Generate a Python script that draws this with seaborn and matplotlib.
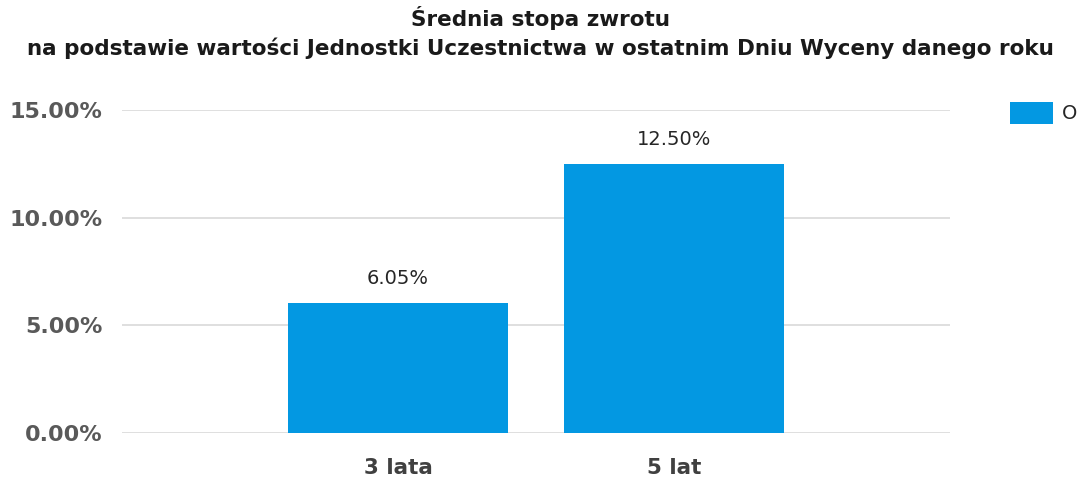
"""
bar chart: average rate of return (3 and 5 years)
"""

import matplotlib
matplotlib.use("Agg")
import matplotlib.pyplot as plt
import seaborn as sns
import pandas as pd

categories = ["3 lata", "5 lat"]
values = [6.05, 12.50]
series_name = "O"
y_ticks = [0, 5, 10, 15]

title_line1 = "Średnia stopa zwrotu"
title_line2 = "na podstawie wartości Jednostki Uczestnictwa w ostatnim Dniu Wyceny danego roku"

bar_color = "#0398E2"

sns.set_theme(style="white")
plt.rcParams["font.family"] = ["DejaVu Sans"]

df = pd.DataFrame({"okres": categories, "stopa": values, "seria": series_name})

fig = plt.figure(figsize=(10.81, 4.82), dpi=100)
ax = fig.add_axes([0.1129, 0.1017, 0.7659, 0.6701])

sns.barplot(data=df, x="okres", y="stopa", hue="seria", palette=[bar_color],
            saturation=1, width=0.8, linewidth=0, ax=ax, legend=True)

ax.set_xlim(-1, 2)
ax.set_ylim(0, 15)
ax.set_yticks(y_ticks)
ax.set_yticklabels([f"{t:.2f}%" for t in y_ticks])
ax.yaxis.grid(True, color="#D9D9D9", linewidth=1.2)
ax.set_axisbelow(True)
for s in ax.spines.values():
    s.set_visible(False)
ax.tick_params(axis="y", length=0, pad=14, labelsize=16, labelcolor="#595959")
ax.tick_params(axis="x", length=0, pad=18, labelsize=15.5, labelcolor="#404040")
for lab in ax.get_yticklabels() + ax.get_xticklabels():
    lab.set_fontweight("bold")
ax.set_xlabel("")
ax.set_ylabel("")

# value labels above bars
for i, v in enumerate(values):
    ax.annotate(f"{v:.2f}%", (i, v), xytext=(0, 10.5), textcoords="offset points",
                ha="center", va="bottom", fontsize=14, color="#262626")

fig.text(0.5, 0.962, title_line1, ha="center", va="center", fontsize=15.5,
         fontweight="bold", color="#1a1a1a")
fig.text(0.5, 0.900, title_line2, ha="center", va="center", fontsize=15.5,
         fontweight="bold", color="#1a1a1a")

ax.legend(loc="upper left", bbox_to_anchor=(1.0725, 1.025), frameon=False,
          fontsize=14, handlelength=2.2, handleheight=1.35, handletextpad=0.45,
          borderaxespad=0, borderpad=0)

fig.savefig("out.png", dpi=100)
plt.close(fig)
